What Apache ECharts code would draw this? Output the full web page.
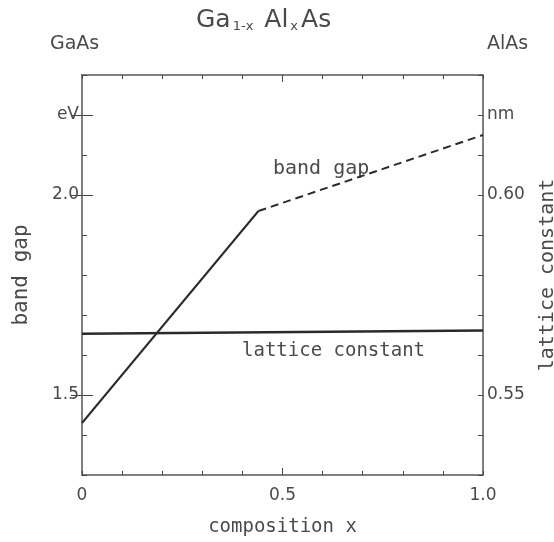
<!DOCTYPE html>
<html>
<head>
<meta charset="utf-8">
<script src="https://cdn.jsdelivr.net/npm/echarts@6/dist/echarts.min.js"></script>
<style>html,body{margin:0;padding:0;background:#fff;}#c{width:554px;height:542px;}</style>
</head>
<body>
<div id="c"></div>
<script>
// ---- data ----
const compositionSolid = [0, 0.44];
const bandGapSolid = [1.43, 1.96];
const compositionDashed = [0.44, 1.0];
const bandGapDashed = [1.96, 2.15];
const latticeX = [0, 1.0];
const latticeNM = [0.5653, 0.5661];
const xLabelValues = [0, 0.5, 1.0];
const xLabelTexts = ['0', '0.5', '1.0'];
const leftLabelValues = [1.5, 2.0, 2.2];
const leftLabelTexts = ['1.5', '2.0', 'eV'];
const rightLabelValues = [0.55, 0.60, 0.62];
const rightLabelTexts = ['0.55', '0.60', 'nm'];
const leftMajorTicks = [1.5, 2.0, 2.2];
const rightMajorTicks = [0.55, 0.60, 0.62];
const xMajorTicks = [0.5];

function pick(vals, texts) {
  return function (v) {
    for (let i = 0; i < vals.length; i++) if (Math.abs(v - vals[i]) < 1e-6) return texts[i];
    return '';
  };
}
const zip = (a, b) => a.map((v, i) => [v, b[i]]);

const ink = '#2a2a2a';
const txt = '#4a4a4a';
const tickColor = '#444';
const axisLine = { show: true, onZero: false, lineStyle: { color: '#555', width: 1.5 } };
const font = 'DejaVu Sans';
const mono = 'DejaVu Sans Mono';
const tick = (len, extra) => Object.assign({ show: true, inside: true, length: len, lineStyle: { color: tickColor, width: 1 } }, extra || {});

const chart = echarts.init(document.getElementById('c'));
chart.setOption({
  animation: false,
  backgroundColor: '#fff',
  grid: { left: 82, right: 71, top: 75, bottom: 67, outerBoundsMode: 'none', containLabel: false },
  title: {
    text: '{a|Ga}{s|1-x}{a| Al}{s|x}{a|As}',
    left: 191, top: -4,
    textStyle: {
      fontWeight: 'normal',
      rich: {
        a: { fontFamily: font, fontSize: 25, fontWeight: 'normal', color: txt, lineHeight: 32, verticalAlign: 'bottom' },
        s: { fontFamily: font, fontSize: 13, fontWeight: 'normal', color: txt, lineHeight: 25, verticalAlign: 'bottom', padding: [0, 3, 0, 2] }
      }
    }
  },
  graphic: [
    { type: 'text', left: 50, top: 35, style: { text: 'GaAs', font: '19px "DejaVu Sans"', fill: txt } },
    { type: 'text', left: 487, top: 35, style: { text: 'AlAs', font: '19px "DejaVu Sans"', fill: txt } },
    { type: 'text', left: 273, top: 159, style: { text: 'band gap', font: '20px "DejaVu Sans Mono"', fill: txt } },
    { type: 'text', left: 242, top: 342, style: { text: 'lattice constant', font: '19px "DejaVu Sans Mono"', fill: txt } }
  ],
  xAxis: [
    {
      type: 'value', position: 'bottom', min: 0, max: 1, interval: 0.1,
      axisLine: axisLine, splitLine: { show: false },
      axisTick: tick(4),
      axisLabel: { customValues: xLabelValues, formatter: pick(xLabelValues, xLabelTexts), color: txt, fontFamily: font, fontSize: 17, margin: 12 },
      name: 'composition x', nameLocation: 'middle', nameGap: 43,
      nameTextStyle: { fontFamily: mono, fontSize: 19, color: txt }
    },
    {
      type: 'value', position: 'top', min: 0, max: 1, interval: 0.1,
      axisLine: axisLine, splitLine: { show: false },
      axisTick: tick(4),
      axisLabel: { show: false }
    },
    {
      type: 'value', position: 'bottom', min: 0, max: 1, axisLine: { show: false }, splitLine: { show: false },
      axisTick: tick(7, { customValues: xMajorTicks }), axisLabel: { show: false }
    },
    {
      type: 'value', position: 'top', min: 0, max: 1, axisLine: { show: false }, splitLine: { show: false },
      axisTick: tick(7, { customValues: xMajorTicks }), axisLabel: { show: false }
    }
  ],
  yAxis: [
    {
      type: 'value', position: 'left', min: 1.3, max: 2.3, interval: 0.1,
      axisLine: axisLine, splitLine: { show: false },
      axisTick: tick(5),
      axisLabel: { customValues: leftLabelValues, formatter: pick(leftLabelValues, leftLabelTexts), color: txt, fontFamily: font, fontSize: 17, margin: 3 },
      name: 'band gap', nameLocation: 'middle', nameGap: 50, nameRotate: 90,
      nameTextStyle: { fontFamily: mono, fontSize: 21, color: txt }
    },
    {
      type: 'value', position: 'right', min: 0.53, max: 0.63, interval: 0.01,
      axisLine: axisLine, splitLine: { show: false },
      axisTick: tick(5),
      axisLabel: { customValues: rightLabelValues, formatter: pick(rightLabelValues, rightLabelTexts), color: txt, fontFamily: font, fontSize: 17, margin: 4 },
      name: 'lattice constant', nameLocation: 'middle', nameGap: 55, nameRotate: 90,
      nameTextStyle: { fontFamily: mono, fontSize: 20, color: txt }
    },
    {
      type: 'value', position: 'left', min: 1.3, max: 2.3, axisLine: { show: false }, splitLine: { show: false },
      axisTick: tick(11, { customValues: leftMajorTicks }), axisLabel: { show: false }
    },
    {
      type: 'value', position: 'right', min: 0.53, max: 0.63, axisLine: { show: false }, splitLine: { show: false },
      axisTick: tick(11, { customValues: rightMajorTicks }), axisLabel: { show: false }
    }
  ],
  series: [
    {
      type: 'line', xAxisIndex: 0, yAxisIndex: 0, data: zip(compositionSolid, bandGapSolid),
      symbol: 'none', lineStyle: { color: ink, width: 2 }
    },
    {
      type: 'line', xAxisIndex: 0, yAxisIndex: 0, data: zip(compositionDashed, bandGapDashed),
      symbol: 'none', lineStyle: { color: ink, width: 2, type: [8, 5] }
    },
    {
      type: 'line', xAxisIndex: 0, yAxisIndex: 1, data: zip(latticeX, latticeNM),
      symbol: 'none', lineStyle: { color: ink, width: 2.5 }
    }
  ]
});
</script>
</body>
</html>
